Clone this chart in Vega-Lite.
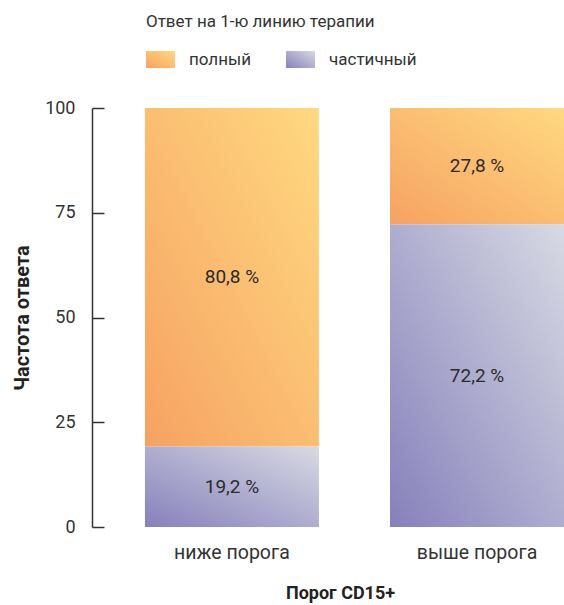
{
  "$schema": "https://vega.github.io/schema/vega-lite/v6.json",
  "width": 472,
  "height": 419,
  "autosize": {"type": "none"},
  "padding": {"left": 92, "top": 108, "right": 0, "bottom": 78},
  "background": "white",
  "config": {"font": "Roboto", "view": {"stroke": null}},
  "data": {"values": [
    {"group": "ниже порога", "type": "полный", "value": 80.8},
    {"group": "ниже порога", "type": "частичный", "value": 19.2},
    {"group": "выше порога", "type": "полный", "value": 27.8},
    {"group": "выше порога", "type": "частичный", "value": 72.2}
  ]},
  "transform": [
    {"stack": "value", "groupby": ["group"], "sort": [{"field": "type", "order": "descending"}], "as": ["y0", "y1"]},
    {"calculate": "(datum.y0+datum.y1)/2", "as": "mid"},
    {"calculate": "replace(format(datum.value,'.1f'),'.',',')+' %'", "as": "label"}
  ],
  "encoding": {
    "x": {
      "field": "group", "type": "nominal", "sort": ["ниже порога", "выше порога"],
      "scale": {"paddingInner": 0.29, "paddingOuter": 0.108, "align": 1},
      "axis": {"title": "Порог CD15+", "domain": false, "ticks": false, "labelPadding": 16, "labelFontSize": 19.5, "labelColor": "#333", "labelAngle": 0, "titleFontSize": 18, "titleFontWeight": "bold", "titleColor": "#222", "titlePadding": 23, "titleX": 248}
    }
  },
  "layer": [
    {
      "mark": {"type": "bar"},
      "encoding": {
        "y": {"field": "y0", "type": "quantitative", "title": "Частота ответа", "scale": {"domain": [0, 100], "nice": false},
          "axis": {"values": [0, 25, 50, 75, 100], "grid": false, "domainColor": "#333", "domainWidth": 1.5, "tickColor": "#333", "tickWidth": 1.5, "tickSize": -12, "labelPadding": 29, "labelFontSize": 18, "labelColor": "#333", "titleFontSize": 20, "titleFontWeight": "bold", "titleColor": "#222", "titlePadding": 12}},
        "y2": {"field": "y1"},
        "color": {
          "field": "type", "type": "nominal",
          "scale": {"domain": ["полный", "частичный"], "range": [
            {"expr": "{gradient: 'linear', x1: 0, y1: 1, x2: 1, y2: 0, stops: [{offset: 0, color: '#F6A262'}, {offset: 1, color: '#FFD981'}]}"},
            {"expr": "{gradient: 'linear', x1: 0, y1: 1, x2: 1, y2: 0, stops: [{offset: 0, color: '#8680BB'}, {offset: 1, color: '#D7DAE3'}]}"}
          ]},
          "legend": {
            "title": "Ответ на 1-ю линию терапии", "titleLimit": 500, "orient": "none", "legendX": 54, "legendY": -94, "direction": "horizontal",
            "symbolType": "M-1,-0.586H1V0.586H-1Z", "symbolSize": 841, "symbolStrokeWidth": 0, "symbolOpacity": 1,
            "labelFontSize": 17, "labelColor": "#333", "labelOffset": 14, "columnPadding": 34,
            "titleFontSize": 17, "titleFontWeight": "normal", "titleColor": "#333", "titlePadding": 14
          }
        }
      }
    },
    {
      "mark": {"type": "text", "fontSize": 19, "color": "#2b2b2b"},
      "encoding": {
        "y": {"field": "mid", "type": "quantitative", "title": "Частота ответа"},
        "text": {"field": "label"}
      }
    }
  ]
}
